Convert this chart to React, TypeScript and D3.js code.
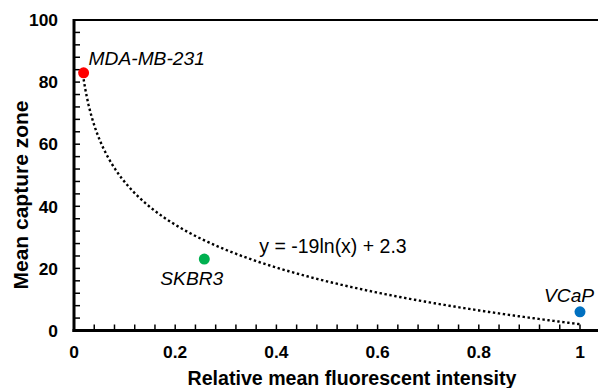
import React from "react";
import * as d3 from "d3";

const cellLines = ["MDA-MB-231", "SKBR3", "VCaP"];
const intensity = [0.019, 0.2575, 1.0];
const captureZone = [83, 23, 6];
const pointColors = ["#ff0000", "#00b050", "#0070c0"];
const xTickValues = [0, 0.2, 0.4, 0.6, 0.8, 1];
const xTickLabels = ["0", "0.2", "0.4", "0.6", "0.8", "1"];
const yTickValues = [0, 20, 40, 60, 80, 100];
const yTickLabels = ["0", "20", "40", "60", "80", "100"];
const equationText = "y = -19ln(x) + 2.3";
const xTitle = "Relative mean fluorescent intensity";
const yTitle = "Mean capture zone";

const W = 598;
const H = 388;

// least-squares logarithmic fit y = a*ln(x) + b (as a spreadsheet trendline does)
function logFit(xs: number[], ys: number[]) {
  const lx = xs.map((v) => Math.log(v));
  const mx = d3.mean(lx) as number;
  const my = d3.mean(ys) as number;
  let sxy = 0;
  let sxx = 0;
  lx.forEach((v, i) => {
    sxy += (v - mx) * (ys[i] - my);
    sxx += (v - mx) * (v - mx);
  });
  const a = sxy / sxx;
  return { a, b: my - a * mx };
}

export default function App() {
  const x = d3.scaleLinear().domain([0, 1]).range([74, 580]);
  const y = d3.scaleLinear().domain([0, 100]).range([330.5, 20]);

  const xMinor = d3.range(0, 1.1 + 1e-9, 0.04).filter((v) => x(v) <= W + 2);
  const yMinor = d3.range(0, 100 + 1e-9, 4);

  const fit = logFit(intensity, captureZone);
  const xMin = d3.min(intensity) as number;
  const xMax = d3.max(intensity) as number;
  const trendXs = d3.range(0, 301).map((i) => xMin + ((xMax - xMin) * i) / 300);
  const line = d3
    .line<number>()
    .x((d) => x(d))
    .y((d) => y(fit.a * Math.log(d) + fit.b))
    .curve(d3.curveLinear);

  const labelFont = "Arial, 'Liberation Sans', sans-serif";

  const labelPos = [
    { dx: 5, dy: -8 },
    { dx: -44, dy: 26 },
    { dx: -36, dy: -10 },
  ];

  return (
    <svg
      width={W}
      height={H}
      style={{ position: "absolute", left: 0, top: 0, background: "#fff" }}
      fontFamily={labelFont}
    >
      <rect width={W} height={H} fill="#fff" />
      <line x1={x(0)} x2={W} y1={y(100)} y2={y(100)} stroke="#000" strokeWidth={2} />
      {yMinor.map((v) => (
        <line key={"ym" + v} x1={x(0)} x2={x(0) + 6} y1={y(v)} y2={y(v)} stroke="#000" strokeWidth={1.5} />
      ))}
      {xMinor.map((v) => (
        <line key={"xm" + v} x1={x(v)} x2={x(v)} y1={y(0)} y2={y(0) - 6} stroke="#000" strokeWidth={1.5} />
      ))}
      <line x1={x(0)} x2={x(0)} y1={y(100) - 1} y2={y(0) + 1.5} stroke="#000" strokeWidth={3} />
      <line x1={x(0) - 1.5} x2={W} y1={y(0)} y2={y(0)} stroke="#000" strokeWidth={3} />
      {yTickValues.map((v, i) => (
        <text key={"yl" + v} x={58} y={y(v)} dy="0.36em" textAnchor="end" fontSize={17.4} fontWeight="bold">
          {yTickLabels[i]}
        </text>
      ))}
      {xTickValues.map((v, i) => (
        <text key={"xl" + v} x={x(v)} y={358.3} textAnchor="middle" fontSize={17.4} fontWeight="bold">
          {xTickLabels[i]}
        </text>
      ))}
      <text x={352} y={385} textAnchor="middle" fontSize={19.6} fontWeight="bold">
        {xTitle}
      </text>
      <text transform={`translate(28.3,195) rotate(-90)`} textAnchor="middle" fontSize={21} fontWeight="bold">
        {yTitle}
      </text>
      <path d={line(trendXs) || ""} fill="none" stroke="#000" strokeWidth={2.4} strokeDasharray="2.4 2.6" />
      <text x={259.3} y={252.5} fontSize={19.5}>
        {equationText}
      </text>
      {intensity.map((v, i) => (
        <g key={cellLines[i]}>
          <circle cx={x(v)} cy={y(captureZone[i])} r={5.5} fill={pointColors[i]} />
          <text
            x={x(v) + labelPos[i].dx}
            y={y(captureZone[i]) + labelPos[i].dy}
            fontSize={19.2}
            fontStyle="italic"
          >
            {cellLines[i]}
          </text>
        </g>
      ))}
    </svg>
  );
}
